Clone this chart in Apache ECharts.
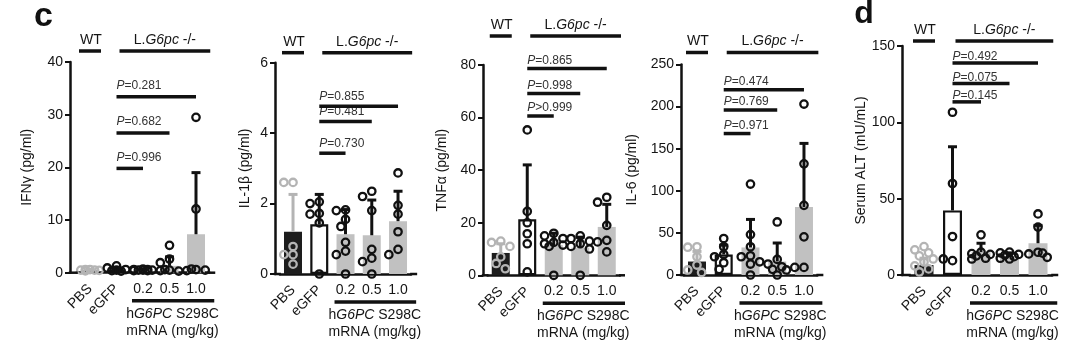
<!DOCTYPE html>
<html><head><meta charset="utf-8">
<script src="https://cdn.jsdelivr.net/npm/echarts@6/dist/echarts.min.js"></script>
<style>html,body{margin:0;padding:0;background:#fff}#c{width:1080px;height:355px}</style>
</head><body><div id="c"></div>
<script>
// ---------------- data ----------------
const categories = ['PBS', 'eGFP', '0.2', '0.5', '1.0'];
const yNames = ['IFNγ (pg/ml)', 'IL-1β (pg/ml)', 'TNFα (pg/ml)', 'IL-6 (pg/ml)', 'Serum ALT (mU/mL)'];
const yMax = [40, 6, 80, 250, 150];
const yStep = [10, 2, 20, 50, 50];
const panelLetters = ['c', 'd'];
const groupWT = 'WT';
const groupKO = ['L.', 'G6pc', ' -/-'];          // normal, italic, normal
const treatLine1 = ['h', 'G6PC', ' S298C'];      // normal, italic, normal
const treatLine2 = 'mRNA (mg/kg)';

// IFN-gamma
const ifnMean = [0.4, 0.6, 0.55, 1.3, 7.3];
const ifnSD = [0.2, 0.4, 0.15, 1.7, 11.7];
const ifnPts = [
  [0.6, 0.5, 0.45, 0.5, 0.35, 0.6],
  [1.3, 0.9, 0.6, 0.4, 0.3, 0.5],
  [0.7, 0.6, 0.5, 0.5, 0.4, 0.6, 0.5, 0.4],
  [5.2, 2.6, 1.9, 0.5, 0.4, 0.3, 0.6],
  [29.5, 12.1, 0.6, 0.4, 0.5, 0.7]
];
const ifnSig = [[2, 19.8, 'P=0.996'], [3, 26.5, 'P=0.682'], [4, 33.4, 'P=0.281']];

// IL-1 beta
const il1Mean = [1.2, 1.41, 1.13, 1.1, 1.5];
const il1SD = [1.06, 0.85, 0.7, 1.0, 0.85];
const il1Pts = [
  [2.6, 2.6, 0.78, 0.55, 0.55, 0.28],
  [2.05, 2.0, 1.72, 1.7, 1.45, 0],
  [1.82, 1.8, 1.55, 1.35, 0.9, 0.65, 0.55, 0],
  [2.35, 2.2, 1.8, 0.7, 0.45, 0.35, 0],
  [2.87, 1.95, 1.7, 1.2, 0.7, 0.55]
];
const il1Sig = [[2, 3.43, 'P=0.730'], [3, 4.33, 'P=0.481'], [4, 4.76, 'P=0.855']];

// TNF-alpha
const tnfMean = [8.5, 21.3, 11.5, 10.5, 18.4];
const tnfSD = [3.5, 20.7, 4.5, 4.0, 8.6];
const tnfPts = [
  [13, 12.5, 11, 7, 4.5, 2.5],
  [55.3, 24.3, 20, 15.8, 12, 1.3],
  [16, 15, 14, 12.5, 12, 11.5, 11, 0],
  [15, 14, 13, 12, 11, 10, 0],
  [29.7, 27.8, 19, 13.3, 12.7, 8.9]
];
const tnfSig = [[2, 60.6, 'P>0.999'], [3, 69.2, 'P=0.998'], [4, 78.7, 'P=0.865']];

// IL-6
const il6Mean = [16, 24.4, 32.7, 16, 80.7];
const il6SD = [12, 11, 33.3, 22, 75.6];
const il6Pts = [
  [33.5, 33, 21.7, 11.8, 6, 3],
  [43.3, 33.5, 24.4, 21.7, 14.6, 6.7],
  [108, 48, 33.5, 22.8, 21.7, 15.7, 13, 0],
  [63, 18.5, 13, 9.8, 6.7, 6, 0],
  [203, 132, 82.7, 45.3, 9, 9]
];
const il6Sig = [[2, 168, 'P=0.971'], [3, 196, 'P=0.769'], [4, 220, 'P=0.474']];

// Serum ALT
const altMean = [6.5, 42.3, 15, 12.5, 20.8];
const altSD = [4.5, 41.7, 5.8, 2, 11.7];
const altPts = [
  [18.6, 16.5, 14.5, 12.5, 10.5, 8.5, 6, 4, 2],
  [106.6, 59.9, 25.2, 9.4, 10.5],
  [26.3, 15, 14, 13.5, 12.5, 11, 10.5],
  [15, 14.5, 13.5, 13, 12, 11, 10.5],
  [40, 31.4, 14.9, 13.8, 11.6, 14.3]
];
const altSig = [[2, 113.4, 'P=0.145'], [3, 125.4, 'P=0.075'], [4, 138.9, 'P=0.492']];

const panels = [
  {mean: ifnMean, sd: ifnSD, pts: ifnPts, sig: ifnSig},
  {mean: il1Mean, sd: il1SD, pts: il1Pts, sig: il1Sig},
  {mean: tnfMean, sd: tnfSD, pts: tnfPts, sig: tnfSig},
  {mean: il6Mean, sd: il6SD, pts: il6Pts, sig: il6Sig},
  {mean: altMean, sd: altSD, pts: altPts, sig: altSig}
];

// ---------------- layout & style ----------------
const FONT = '"Liberation Sans", Arial, Helvetica, sans-serif';
const INK = '#111111';
const TXT = '#151515';
const PBS_GREY = '#b4b4b4';
const BAR_DARK = '#1d1d1d';
const BAR_GREY = '#c1c1c1';

const layout = [
  {left: 76.75, width: 132.5, top: 62, height: 210.7, yOff: 6.75, nameGap: 36, barW: 18, groupRise: 11, pLift: 11, axisExt: 6},
  {left: 279.9, width: 131.25, top: 62.7, height: 211.3, yOff: 4.9, nameGap: 23, barW: 18, groupRise: 10, pLift: 10, axisExt: 6},
  {left: 487.5, width: 132.5, top: 65, height: 210.3, yOff: 4.5, nameGap: 34, barW: 18, groupRise: 29, pLift: 8, axisExt: 5},
  {left: 683.6, width: 133.75, top: 64.5, height: 210.5, yOff: 2.6, nameGap: 42, barW: 18, groupRise: 12, pLift: 8, axisExt: 6},
  {left: 909.75, width: 142.5, top: 46, height: 229, yOff: 7.75, nameGap: 32, barW: 19, groupRise: 5, pLift: 6, axisExt: 6}
];

function richOf(parts) {
  return parts.map((t, k) => t ? '{' + (k % 2 ? 'i' : 'n') + '|' + t + '}' : '').join('');
}
function richStyle(size, fill) {
  return {
    n: {fontSize: size, fontFamily: FONT, fill: fill},
    i: {fontSize: size, fontFamily: FONT, fill: fill, fontStyle: 'italic'}
  };
}

// compact dot-plot layout (deterministic), computed in pixel space from the axes
function pointsRender(p) {
  return function (params, api) {
    const ci = api.value(0);
    const vals = panels[p].pts[ci];
    const color = ci === 0 ? PBS_GREY : INK;
    const placed = [];
    const ch = [];
    const offs = [0, -1, 1, -2, 2];
    const step = 4.6, minD = 7.6;
    vals.forEach(v => {
      const c = api.coord([ci, v]);
      let px = c[0], bestD = -1;
      for (const o of offs) {
        const cx = c[0] + o * step;
        let d = Infinity;
        placed.forEach(q => { d = Math.min(d, Math.hypot(q[0] - cx, q[1] - c[1])); });
        if (d >= minD) { px = cx; break; }
        if (d > bestD) { bestD = d; px = cx; }
      }
      placed.push([px, c[1]]);
      ch.push({type: 'circle', shape: {cx: px, cy: c[1], r: 3.7},
        style: {fill: 'none', stroke: color, lineWidth: 2.3}});
    });
    return {type: 'group', children: ch};
  };
}

function errRender(p) {
  return function (params, api) {
    const ci = api.value(0);
    const m = panels[p].mean[ci], s = panels[p].sd[ci];
    const b = api.coord([ci, m]);
    const t = api.coord([ci, m + s]);
    const col = ci === 0 ? PBS_GREY : INK;
    return {type: 'group', children: [
      {type: 'line', shape: {x1: b[0], y1: b[1], x2: t[0], y2: t[1]}, style: {stroke: col, lineWidth: 3}},
      {type: 'line', shape: {x1: t[0] - 4.5, y1: t[1], x2: t[0] + 4.5, y2: t[1]}, style: {stroke: col, lineWidth: 3}}
    ]};
  };
}

function decoRender(p) {
  const L = layout[p], P = panels[p];
  return function (params, api) {
    const band = api.size([1, 0])[0];
    const x = i => api.coord([i, 0])[0];
    const y0 = api.coord([0, 0])[1];
    const yTop = api.coord([0, yMax[p]])[1];
    const ch = [];
    const line = (x1, y1, x2, y2, w, c) => ch.push({type: 'line', shape: {x1, y1, x2, y2}, style: {stroke: c || INK, lineWidth: w}});
    const text = (tx, ty, str, size, align, fill) => ch.push({type: 'text', x: tx, y: ty,
      style: {text: str, rich: richStyle(size, fill || TXT), align: align, verticalAlign: 'middle',
        fontSize: size, fontFamily: FONT, fill: fill || TXT}});
    // axis line continuation to the y axis and past the last bar
    line(x(0) - band / 2 - L.yOff - 1.2, y0, x(0) - band / 2 + 1, y0, 2.5);
    line(x(4) + band / 2 - 1, y0, x(4) + band / 2 + L.axisExt, y0, 2.5);
    // group labels
    const gy = yTop - L.groupRise;
    line(x(0) - 11, gy, x(0) + 11, gy, 3.5);
    text(x(0) + 1, gy - 11, richOf([groupWT]), 14, 'center');
    const k1 = x(1) + 3, k2 = x(4) + band / 2 + 1;
    line(k1, gy, k2, gy, 3.5);
    text((k1 + k2) / 2, gy - 11, richOf(groupKO), 14, 'center');
    // significance comparisons (eGFP vs dose)
    P.sig.forEach(s => {
      const sy = api.coord([0, s[1]])[1];
      line(x(1), sy, x(s[0]), sy, 3.5);
      text(x(1), sy - L.pLift, richOf(['', s[2].charAt(0), s[2].slice(1)]), 12, 'left', '#333');
    });
    // treatment bracket
    line(x(2) - 11, y0 + 28, x(4) + band / 2 + 5, y0 + 28, 3.5);
    text(x(3) + 3, y0 + 41, richOf(treatLine1), 14, 'center');
    text(x(3) + 3, y0 + 58, richOf([treatLine2]), 14, 'center');
    return {type: 'group', children: ch};
  };
}

const grids = [], xAxes = [], yAxes = [], series = [];
layout.forEach((L, p) => {
  grids.push({left: L.left, top: L.top, width: L.width, height: L.height, containLabel: false, outerBoundsMode: 'none'});
});
layout.forEach((L, p) => {
  xAxes.push({gridIndex: p, type: 'category', data: categories, position: 'bottom',
    axisLine: {show: true, lineStyle: {color: INK, width: 2.5}}, axisTick: {show: false},
    axisLabel: {interval: 0, rotate: 45, margin: 14, fontSize: 14, color: TXT, fontFamily: FONT,
      formatter: (v, i) => i < 2 ? v : ''},
    splitLine: {show: false}});
});
layout.forEach((L, p) => {
  xAxes.push({gridIndex: p, type: 'category', data: categories, position: 'bottom',
    axisLine: {show: false}, axisTick: {show: false},
    axisLabel: {interval: 0, margin: 9, fontSize: 14, color: TXT, fontFamily: FONT,
      formatter: (v, i) => i >= 2 ? v : ''},
    splitLine: {show: false}});
});
layout.forEach((L, p) => {
  yAxes.push({gridIndex: p, type: 'value', min: 0, max: yMax[p], interval: yStep[p], offset: L.yOff,
    axisLine: {show: true, lineStyle: {color: INK, width: 2.5}},
    axisTick: {show: true, length: 5, lineStyle: {color: INK, width: 2}},
    axisLabel: {fontSize: 14, color: TXT, fontFamily: FONT, margin: 7},
    splitLine: {show: false},
    name: yNames[p], nameLocation: 'middle', nameGap: L.nameGap, nameRotate: 90,
    nameTextStyle: {fontSize: 14, color: TXT, fontFamily: FONT}});
});

const barStyles = [
  {color: BAR_DARK},
  {color: '#ffffff', borderColor: INK, borderWidth: 2.2},
  {color: BAR_GREY}, {color: BAR_GREY}, {color: BAR_GREY}
];
const catData = categories.map((c, i) => [i, 0]);

panels.forEach((P, p) => {
  series.push({type: 'bar', xAxisIndex: p, yAxisIndex: p, barWidth: layout[p].barW, z: 2, silent: true,
    data: P.mean.map((m, i) => ({value: m, itemStyle: barStyles[i]}))});
  series.push({type: 'custom', xAxisIndex: p, yAxisIndex: p, z: 3, clip: false, silent: true,
    data: catData, renderItem: errRender(p)});
  series.push({type: 'custom', xAxisIndex: p, yAxisIndex: p, z: 4, clip: false, silent: true,
    data: catData, renderItem: pointsRender(p)});
  series.push({type: 'custom', xAxisIndex: p, yAxisIndex: p, z: 5, clip: false, silent: true,
    data: [[0, 0]], renderItem: decoRender(p)});
});

const chart = echarts.init(document.getElementById('c'), null, {renderer: 'canvas'});
chart.setOption({
  animation: false,
  backgroundColor: '#ffffff',
  grid: grids, xAxis: xAxes, yAxis: yAxes, series: series,
  graphic: [
    {type: 'text', x: 43.5, y: 0, style: {text: panelLetters[0], fontSize: 34, fontWeight: 'bold', fontFamily: FONT, fill: INK, align: 'center', verticalAlign: 'top'}},
    {type: 'text', x: 864, y: -1.5, style: {text: panelLetters[1], fontSize: 32, fontWeight: 'bold', fontFamily: FONT, fill: INK, align: 'center', verticalAlign: 'top'}}
  ]
});
</script></body></html>
